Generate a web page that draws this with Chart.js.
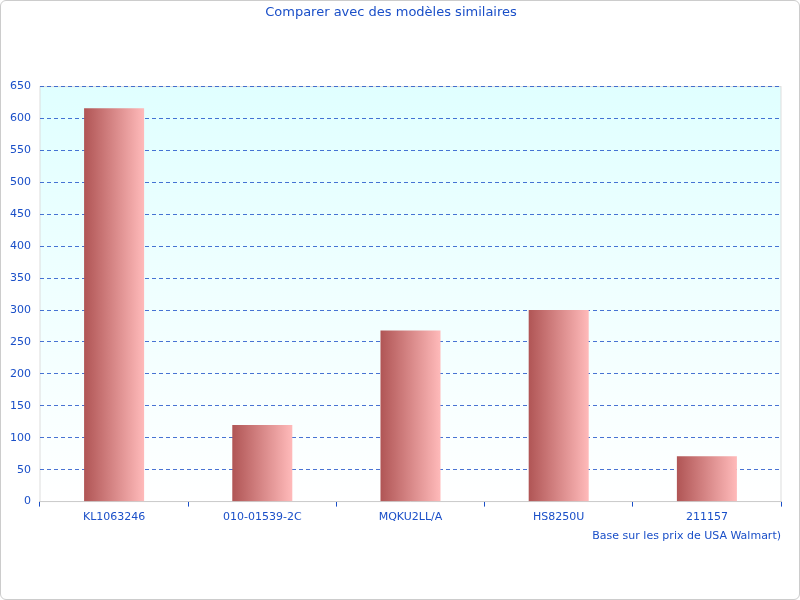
<!DOCTYPE html>
<html>
<head>
<script src="https://cdn.jsdelivr.net/npm/chart.js@4"></script>
<style>
body { margin: 0; background: #fff; }
#wrap { width: 798px; height: 598px; border: 1px solid #ccc; border-radius: 6px; position: relative; }
</style>
</head>
<body>
<div id="wrap"><canvas id="c" width="798" height="598"></canvas></div>
<script>
var labels = ['KL1063246', '010-01539-2C', 'MQKU2LL/A', 'HS8250U', '211157'];
var prices = [616, 120, 268, 300, 71];
var yTicks = [0, 50, 100, 150, 200, 250, 300, 350, 400, 450, 500, 550, 600, 650];

var blue = '#1a4fc8';
var barPct = 0.405;
Chart.defaults.font.family = 'DejaVu Sans';
Chart.defaults.font.size = 11;
Chart.defaults.color = blue;

// cyan-to-white plot background
var plotBg = {
	id: 'plotBg',
	beforeDraw: function (chart) {
		var a = chart.chartArea, ctx = chart.ctx;
		var g = ctx.createLinearGradient(0, a.top, 0, a.bottom);
		g.addColorStop(0, '#e0ffff');
		g.addColorStop(1, '#ffffff');
		ctx.save();
		ctx.fillStyle = g;
		ctx.fillRect(a.left, a.top, a.right - a.left, a.bottom - a.top);
		ctx.strokeStyle = '#dddddd';
		ctx.strokeRect(a.left, a.top, a.right - a.left, a.bottom - a.top);
		ctx.restore();
	}
};

function barGradient(context) {
	var chart = context.chart;
	var xs = chart.scales.x;
	if (!xs || !chart.chartArea) return '#d88';
	var w = (chart.chartArea.right - chart.chartArea.left) / labels.length * barPct;
	var cx = xs.getPixelForValue(context.dataIndex);
	var g = chart.ctx.createLinearGradient(cx - w / 2, 0, cx + w / 2, 0);
	g.addColorStop(0, '#b05555');
	g.addColorStop(1, '#ffbaba');
	return g;
}

new Chart(document.getElementById('c'), {
	type: 'bar',
	data: {
		labels: labels,
		datasets: [{
			data: prices,
			backgroundColor: barGradient,
			borderWidth: 0,
			categoryPercentage: 1,
			barPercentage: barPct
		}]
	},
	options: {
		responsive: false,
		animation: false,
		layout: { padding: { left: 0, right: 18, bottom: 52, top: 0 } },
		scales: {
			y: {
				min: 0, max: 650,
				afterBuildTicks: function (axis) { axis.ticks = yTicks.map(function (v) { return { value: v }; }); },
				border: { display: false, dash: [4, 3] },
				grid: { color: blue, drawTicks: false, lineWidth: 0.8 },
				ticks: { padding: 9, color: blue }
			},
			x: {
				border: { display: true, color: '#cccccc' },
				grid: { offset: true, drawOnChartArea: false, color: blue, tickLength: 5 },
				ticks: { color: blue, padding: 4 },
				title: { display: true, text: 'Base sur les prix de USA Walmart)', align: 'end', color: blue, padding: { top: 2 } }
			}
		},
		plugins: {
			legend: { display: false },
			tooltip: { enabled: false },
			title: {
				display: true,
				text: 'Comparer avec des modèles similaires',
				color: blue,
				font: { size: 13, weight: 'normal' },
				padding: { top: 4, bottom: 66 }
			}
		}
	},
	plugins: [plotBg]
});
</script>
</body>
</html>
